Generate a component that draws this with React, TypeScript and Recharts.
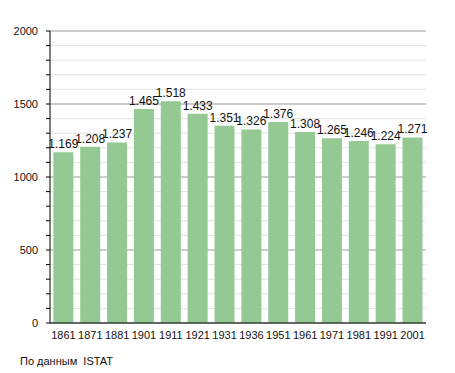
import React from 'react';
import { BarChart, Bar, XAxis, YAxis, CartesianGrid, LabelList } from 'recharts';

const years = ['1861', '1871', '1881', '1901', '1911', '1921', '1931', '1936', '1951', '1961', '1971', '1981', '1991', '2001'];
const population = [1169, 1208, 1237, 1465, 1518, 1433, 1351, 1326, 1376, 1308, 1265, 1246, 1224, 1271];
const yTicks = [0, 100, 200, 300, 400, 500, 600, 700, 800, 900, 1000, 1100, 1200, 1300, 1400, 1500, 1600, 1700, 1800, 1900, 2000];
const majorTicks = [0, 500, 1000, 1500, 2000];
const sourceText = 'По данным  ISTAT';

const data = years.map((y, i) => ({ year: y, value: population[i] }));

const fmt = (v: number) => {
  const s = String(v);
  return s.length > 3 ? s.slice(0, s.length - 3) + '.' + s.slice(s.length - 3) : s;
};

export default function App() {
  const font = '"Liberation Sans", Arial, sans-serif';
  return (
    <div style={{ position: 'absolute', left: 0, top: 0, width: 455, height: 373, background: '#fff', fontFamily: font }}>
      <BarChart
        width={455}
        height={373}
        data={data}
        margin={{ top: 31, right: 29, bottom: 20, left: 0 }}
        barCategoryGap="12.5%"
      >
        <CartesianGrid vertical={false} horizontalValues={yTicks} stroke="#e2e2e2" strokeWidth={1} />
        <CartesianGrid vertical={false} horizontalValues={majorTicks} stroke="#a8a8a8" strokeWidth={1} />
        <XAxis
          dataKey="year"
          height={30}
          tickLine={false}
          axisLine={{ stroke: '#000', strokeWidth: 1 }}
          tick={{ fontSize: 11, fill: '#111', fontFamily: font }}
          tickMargin={2}
          interval={0}
        />
        <YAxis
          width={50}
          domain={[0, 2000]}
          ticks={yTicks}
          interval={0}
          tickFormatter={(v: number) => (v % 500 === 0 ? String(v) : '')}
          tickSize={4}
          tickMargin={8}
          tickLine={{ stroke: '#000' }}
          axisLine={{ stroke: '#000', strokeWidth: 1 }}
          tick={{ fontSize: 11, fill: '#111', fontFamily: font }}
        />
        <Bar dataKey="value" fill="#94c994" isAnimationActive={false}>
          <LabelList
            dataKey="value"
            position="top"
            offset={4}
            formatter={(v: any) => fmt(Number(v))}
            style={{ fontSize: 12, fill: '#111', fontFamily: font }}
          />
        </Bar>
      </BarChart>
      <div style={{ position: 'absolute', left: 20, top: 355, fontSize: 11, color: '#111', whiteSpace: 'pre' }}>{sourceText}</div>
    </div>
  );
}
